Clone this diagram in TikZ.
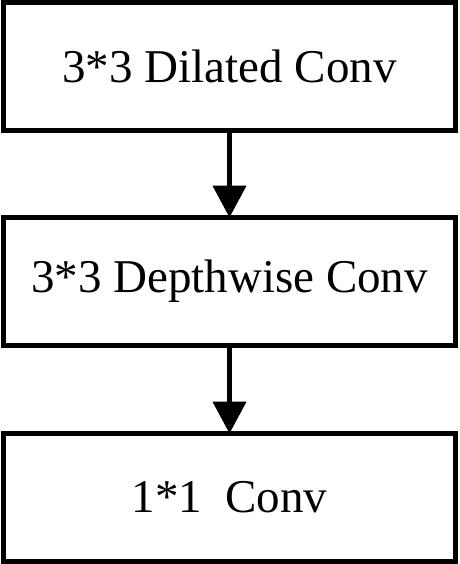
\documentclass[tikz,border=0pt]{standalone}
\usepackage{fontspec}
\setmainfont{Liberation Serif}
\usetikzlibrary{positioning,arrows.meta}
\begin{document}
\begin{tikzpicture}[x=1pt,y=-1pt]
      \tikzstyle{block} = [draw,line width=5pt,outer sep=0pt,inner sep=0pt,minimum width=452pt,minimum height=128pt,font=\fontsize{47}{50}\selectfont];
      \tikzstyle{flow} = [line width=4.7pt,-{Triangle[length=32pt,width=33pt]}];
      \useasboundingbox (0,0) rectangle (459,564);
      \node[block] (dilated) at (229.5,66.5) {3*3 Dilated Conv};
      \node[block,below=87pt of dilated] (depthwise) {3*3 Depthwise Conv};
      \node[block,below=88pt of depthwise] (pointwise) {1*1~~Conv};
      \draw[flow] (dilated) -- (depthwise);
      \draw[flow] (depthwise) -- (pointwise);
    \end{tikzpicture}
\end{document}
